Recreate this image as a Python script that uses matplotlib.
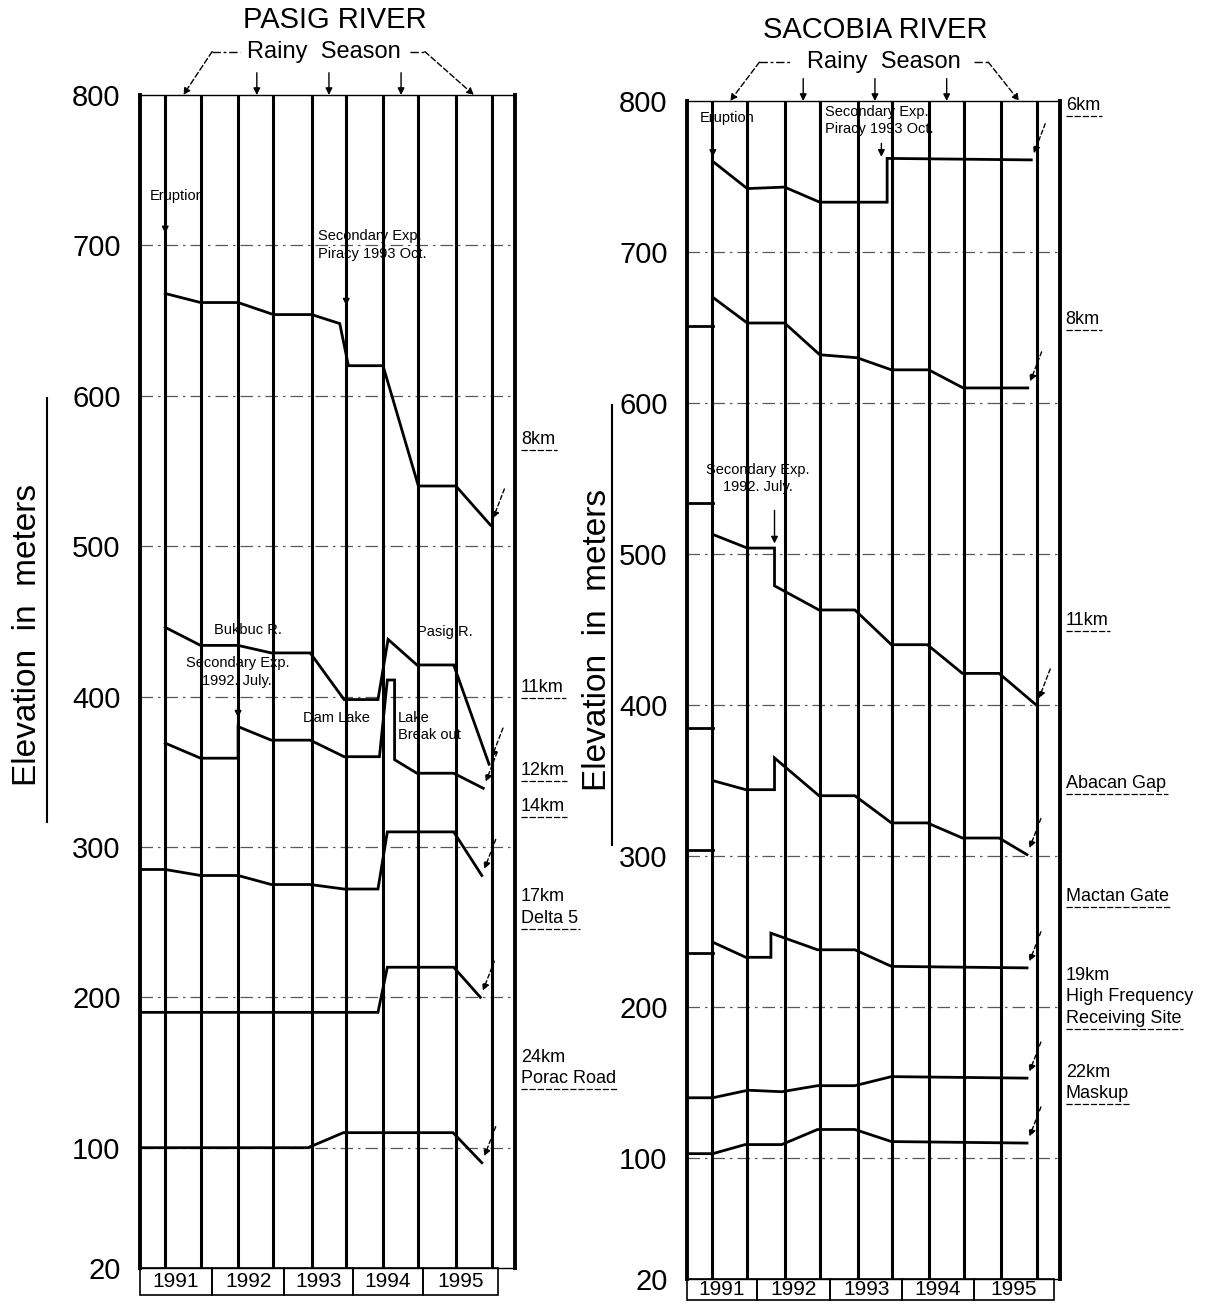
import matplotlib
matplotlib.use('Agg')
import matplotlib.pyplot as plt
from matplotlib import font_manager
from matplotlib.lines import Line2D
from matplotlib.patches import Rectangle

installed = {f.name for f in font_manager.fontManager.ttflist}
narrow = 'Liberation Sans Narrow' if 'Liberation Sans Narrow' in installed else 'Liberation Sans'
note_size = 12 if narrow == 'Liberation Sans Narrow' else 10.5
plt.rcParams['font.family'] = ['Liberation Sans', 'DejaVu Sans']

########
# data #
########
years = [1991, 1992, 1993, 1994, 1995]
season_lines = [1991.35, 1991.84, 1992.36, 1992.85, 1993.38, 1993.86,
                1994.37, 1994.86, 1995.38, 1995.88]
rainy_peaks = [1991.6, 1992.62, 1993.62, 1994.62, 1995.63]
y_ticks = [20, 100, 200, 300, 400, 500, 600, 700, 800]

# Pasig river, elevation (m) of the bed at each station
pasig_8km_x = [1991.35, 1991.84, 1992.36, 1992.85, 1993.38, 1993.77, 1993.89,
               1994.37, 1994.86, 1995.38, 1995.86]
pasig_8km_y = [668, 662, 662, 654, 654, 648, 620, 620, 540, 540, 514]
pasig_11km_x = [1991.35, 1991.84, 1992.36, 1992.82, 1993.36, 1993.83, 1994.30,
                1994.44, 1994.84, 1995.35, 1995.84]
pasig_11km_y = [446, 434, 434, 429, 429, 398, 398, 438, 421, 421, 355]
pasig_12km_x = [1991.35, 1991.84, 1992.36, 1992.36, 1992.82, 1993.36, 1993.83,
                1994.32, 1994.43, 1994.53, 1994.53, 1994.84, 1995.35, 1995.76]
pasig_12km_y = [369, 359, 359, 380, 371, 371, 360, 360, 411, 411, 358, 349, 349, 339]
pasig_14km_x = [1991.0, 1991.35, 1991.84, 1992.36, 1992.82, 1993.36, 1993.83,
                1994.30, 1994.43, 1995.35, 1995.74]
pasig_14km_y = [285, 285, 281, 281, 275, 275, 272, 272, 310, 310, 281]
pasig_17km_x = [1991.0, 1994.30, 1994.43, 1995.35, 1995.72]
pasig_17km_y = [190, 190, 220, 220, 200]
pasig_24km_x = [1991.0, 1993.33, 1993.82, 1995.34, 1995.74]
pasig_24km_y = [100, 100, 110, 110, 90]

pasig_labels = [['8km'], ['11km'], ['12km'], ['14km'], ['17km', 'Delta 5'],
                ['24km', 'Porac Road']]
pasig_label_y = [571, 406, 351, 327, 267, 160]

# Sacobia river
sacobia_6km_x = [1991.36, 1991.84, 1992.36, 1992.85, 1993.79, 1993.79, 1995.80]
sacobia_6km_y = [760, 742, 743, 733, 733, 762, 761]
sacobia_8km_x = [1991.36, 1991.84, 1992.36, 1992.85, 1993.37, 1993.85, 1994.37,
                 1994.85, 1995.75]
sacobia_8km_y = [670, 653, 653, 632, 630, 622, 622, 610, 610]
sacobia_11km_x = [1991.36, 1991.84, 1992.22, 1992.22, 1992.84, 1993.34, 1993.85,
                  1994.35, 1994.84, 1995.35, 1995.87]
sacobia_11km_y = [513, 504, 504, 479, 463, 463, 440, 440, 421, 421, 400]
sacobia_abacan_x = [1991.36, 1991.82, 1992.22, 1992.22, 1992.84, 1993.34, 1993.85,
                    1994.35, 1994.84, 1995.35, 1995.74]
sacobia_abacan_y = [350, 344, 344, 365, 340, 340, 322, 322, 312, 312, 301]
sacobia_mactan_x = [1991.36, 1991.82, 1992.17, 1992.17, 1992.82, 1993.34, 1993.85,
                    1995.74]
sacobia_mactan_y = [243, 233, 233, 249, 238, 238, 227, 226]
sacobia_hf_x = [1991.0, 1991.36, 1991.85, 1992.32, 1992.82, 1993.34, 1993.85, 1995.74]
sacobia_hf_y = [140, 140, 145, 144, 148, 148, 154, 153]
sacobia_maskup_x = [1991.0, 1991.36, 1991.81, 1992.32, 1992.82, 1993.34, 1993.85,
                    1995.74]
sacobia_maskup_y = [103, 103, 109, 109, 119, 119, 111, 110]
sacobia_pre_eruption = [651, 534, 385, 304, 236]

sacobia_labels = [['6km'], ['8km'], ['11km'], ['Abacan Gap'], ['Mactan Gate'],
                  ['19km', 'High Frequency', 'Receiving Site'], ['22km', 'Maskup']]
sacobia_label_y = [797, 655, 456, 348, 273, 221, 157]

##########
# figure #
##########
W, H = 1210, 1304
fig = plt.figure(figsize=(W / 100, H / 100), dpi=100)


def px_axes(x0, y_top, x1, y_bot):
    return fig.add_axes([x0 / W, 1 - y_bot / H, (x1 - x0) / W, (y_bot - y_top) / H])


ax1 = px_axes(140, 95, 515, 1268)
ax2 = px_axes(687, 101, 1060, 1279)

underlined = []


def setup_panel(ax, box_edges, box_h):
    ax.set_xlim(1991.0, 1996.2)
    ax.set_ylim(20, 800)
    ax.set_xticks([])
    ax.set_yticks(y_ticks)
    ax.set_yticklabels([str(v) for v in y_ticks], fontsize=21)
    ax.tick_params(axis='y', length=0, pad=14)
    for side in ['top', 'bottom']:
        ax.spines[side].set_linewidth(1.0)
    for side in ['left', 'right']:
        ax.spines[side].set_linewidth(2.8)
    for v in y_ticks[1:-1]:
        ax.axhline(v, color='0.35', lw=0.9, ls=(0, (10, 4, 2, 4)), zorder=1)
    for x in season_lines:
        ax.axvline(x, color='black', lw=2.2, zorder=2)
    tr = ax.get_xaxis_transform()
    for i, yr in enumerate(years):
        x0, x1 = box_edges[i], box_edges[i + 1]
        ax.add_patch(Rectangle((x0, -box_h), x1 - x0, box_h, transform=tr,
                               fill=False, lw=1.2, clip_on=False))
        ax.text((x0 + x1) / 2, -box_h / 2, str(yr), transform=tr, ha='center',
                va='center', fontsize=15)


def rainy_header(ax, title, title_x, title_y, text_x, y, dash_left, dash_right):
    tr = ax.get_xaxis_transform()
    ax.text(title_x, title_y, title, transform=tr, ha='center', va='center',
            fontsize=21)
    ax.text(text_x, y, 'Rainy  Season', transform=tr, ha='center', va='center',
            fontsize=17)
    for d in [dash_left, dash_right]:
        ax.plot(d, [y, y], transform=tr, color='k', lw=1.0,
                ls=(0, (6, 2, 2, 2)), clip_on=False)
    arrow = dict(arrowstyle='-|>', lw=1.0, color='k', shrinkA=0, shrinkB=0,
                 mutation_scale=10)
    ax.annotate('', xy=(rainy_peaks[0], 1.0), xycoords=tr,
                xytext=(dash_left[0], y), textcoords=tr,
                arrowprops=dict(arrow, ls=(0, (4, 2))))
    ax.annotate('', xy=(rainy_peaks[-1], 1.0), xycoords=tr,
                xytext=(dash_right[1], y), textcoords=tr,
                arrowprops=dict(arrow, ls=(0, (4, 2))))
    for p in rainy_peaks[1:-1]:
        ax.annotate('', xy=(p, 1.0), xycoords=tr, xytext=(p, 1.019),
                    textcoords=tr, arrowprops=arrow)


def draw_series(ax, xs, ys):
    ax.plot(xs, ys, color='black', lw=2.0, zorder=3, solid_joinstyle='miter')
    ax.annotate('', xy=(xs[-1], ys[-1]), xytext=(10, 26),
                textcoords='offset points',
                arrowprops=dict(arrowstyle='-|>', lw=1.0, color='k',
                                ls=(0, (3, 2)), shrinkA=0, shrinkB=5,
                                mutation_scale=10))


def side_labels(ax, labels, label_y):
    for lines, y in zip(labels, label_y):
        for i, line in enumerate(lines):
            t = ax.annotate(line, xy=(1996.28, y), xytext=(0, -15.5 * i),
                            textcoords='offset points', fontsize=13,
                            ha='left', va='center', annotation_clip=False)
        underlined.append(t)


def note(ax, lines, x, y, ha='left'):
    for i, line in enumerate(lines):
        ax.annotate(line, xy=(x, y), xytext=(0, -12.5 * i),
                    textcoords='offset points', fontsize=note_size, family=narrow,
                    ha=ha, va='center', annotation_clip=False, zorder=5)


def event_arrow(ax, x, y0, y1):
    ax.annotate('', xy=(x, y1), xytext=(x, y0),
                arrowprops=dict(arrowstyle='-|>', lw=1.0, color='k',
                                shrinkA=0, shrinkB=0, mutation_scale=10))


################
# Pasig panel #
################
setup_panel(ax1, [1991.0, 1992.0, 1993.0, 1993.95, 1994.93, 1995.96], 0.023)
rainy_header(ax1, 'PASIG RIVER', 1993.7, 1.064, 1993.55, 1.037,
             [1992.0, 1992.38], [1994.74, 1994.95])
for xs, ys in [(pasig_8km_x, pasig_8km_y), (pasig_11km_x, pasig_11km_y),
               (pasig_12km_x, pasig_12km_y), (pasig_14km_x, pasig_14km_y),
               (pasig_17km_x, pasig_17km_y), (pasig_24km_x, pasig_24km_y)]:
    draw_series(ax1, xs, ys)
side_labels(ax1, pasig_labels, pasig_label_y)

note(ax1, ['Eruption'], 1991.14, 733)
event_arrow(ax1, 1991.35, 726, 708)
note(ax1, ['Secondary Exp.', 'Piracy 1993 Oct.'], 1993.47, 706)
event_arrow(ax1, 1993.86, 682, 660)
note(ax1, ['Bukbuc R.'], 1992.5, 444, ha='center')
note(ax1, ['Secondary Exp.', '1992. July.'], 1992.35, 422, ha='center')
event_arrow(ax1, 1992.36, 404, 386)
note(ax1, ['Dam Lake'], 1993.72, 386, ha='center')
note(ax1, ['Lake', 'Break out'], 1994.58, 386)
note(ax1, ['Pasig R.'], 1995.23, 443, ha='center')

###################
# Sacobia panel #
###################
setup_panel(ax2, [1991.0, 1991.97, 1993.0, 1994.0, 1995.0, 1996.12], 0.018)
rainy_header(ax2, 'SACOBIA RIVER', 1993.62, 1.060, 1993.75, 1.033,
             [1992.01, 1992.43], [1995.0, 1995.2])
for v in sacobia_pre_eruption:
    ax2.plot([1991.0, 1991.36], [v, v], color='black', lw=2.0, zorder=3)
for xs, ys in [(sacobia_6km_x, sacobia_6km_y), (sacobia_8km_x, sacobia_8km_y),
               (sacobia_11km_x, sacobia_11km_y),
               (sacobia_abacan_x, sacobia_abacan_y),
               (sacobia_mactan_x, sacobia_mactan_y),
               (sacobia_hf_x, sacobia_hf_y),
               (sacobia_maskup_x, sacobia_maskup_y)]:
    draw_series(ax2, xs, ys)
side_labels(ax2, sacobia_labels, sacobia_label_y)

note(ax2, ['Eruption'], 1991.18, 789)
event_arrow(ax2, 1991.36, 782, 763)
note(ax2, ['Secondary Exp.', 'Piracy 1993 Oct.'], 1992.92, 793)
event_arrow(ax2, 1993.71, 772, 763)
note(ax2, ['Secondary Exp.', '1992. July.'], 1991.99, 556, ha='center')
event_arrow(ax2, 1992.22, 529, 507)

#########################
# rotated y axis labels #
#########################
for x_txt, y_txt, x_line, y0, y1 in [(28, 635, 47, 398, 822),
                                     (598, 640, 612, 405, 845)]:
    fig.text(x_txt / W, 1 - y_txt / H, 'Elevation  in  meters', rotation=90,
             fontsize=24, ha='center', va='center')
    fig.add_artist(Line2D([x_line / W] * 2, [1 - y0 / H, 1 - y1 / H],
                          color='black', lw=1.5))

# dashed underline below each station label
fig.canvas.draw()
renderer = fig.canvas.get_renderer()
for t in underlined:
    bb = t.get_window_extent(renderer)
    yy = (bb.y0 - 2) / H
    fig.add_artist(Line2D([bb.x0 / W, (bb.x1 + 2) / W], [yy, yy], color='black',
                          lw=0.9, ls=(0, (5, 1.5))))

fig.savefig('out.png', dpi=100)
